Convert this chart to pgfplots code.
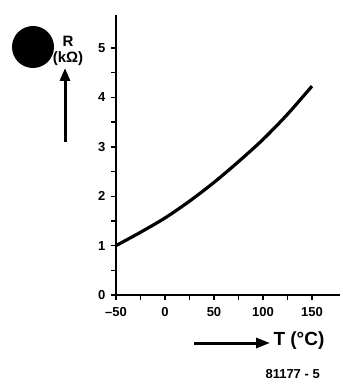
\documentclass[border=0pt]{standalone}
\usepackage{pgfplots}
\pgfplotsset{compat=1.18}
\usepackage{fontspec}
\setmainfont{Liberation Sans}
\usetikzlibrary{arrows.meta}
\begin{document}
\begin{tikzpicture}[x=1pt,y=1pt]
\useasboundingbox (0,0) rectangle (342,-387);
\begin{axis}[
  at={(116pt,-295pt)}, anchor=south west,
  scale only axis, width=224pt, height=280pt,
  xmin=-50, xmax=178.6, ymin=0, ymax=5.67,
  axis x line=bottom, axis y line=left,
  axis line style={-, line width=1.6pt},
  xtick={-50,0,50,100,150}, minor xtick={-25,25,75,125},
  ytick={0,1,2,3,4,5}, minor ytick={0.5,1.5,2.5,3.5,4.5},
  tick align=outside, tick pos=left,
  major tick length=5pt, minor tick length=5pt,
  every tick/.style={line width=1.4pt, black},
  /pgf/number format/assume math mode=true,
  ticklabel style={font=\fontsize{13}{14}\selectfont\bfseries},
  xticklabels={\textendash 50,0,50,100,150},
  xticklabel style={yshift=-4pt},
  yticklabel style={xshift=-2pt},
  clip=false,
]
\addplot[black, line width=3.2pt, smooth] coordinates {
(-50,1.0) (-25,1.27) (0,1.56) (25,1.90) (50,2.28) (75,2.70) (100,3.15) (125,3.66) (150,4.23)};
\end{axis}
\fill[black] (33,-47) circle (21);
\node[font=\fontsize{15}{16}\selectfont\bfseries] at (68,-41) {R};
\node[font=\fontsize{15}{16}\selectfont\bfseries] at (68,-59) {(kΩ)};
\draw[line width=3pt, -{Triangle[length=13pt,width=10pt]}] (65,-142) -- (65,-68);
\draw[line width=3pt, -{Triangle[length=14pt,width=10pt]}] (194,-343) -- (270,-343);
\node[font=\fontsize{19}{20}\selectfont\bfseries, anchor=west] at (270,-341) {T (°C)};
\node[font=\fontsize{13}{14}\selectfont\bfseries, anchor=west] at (262,-374) {81177 - 5};
\end{tikzpicture}
\end{document}
